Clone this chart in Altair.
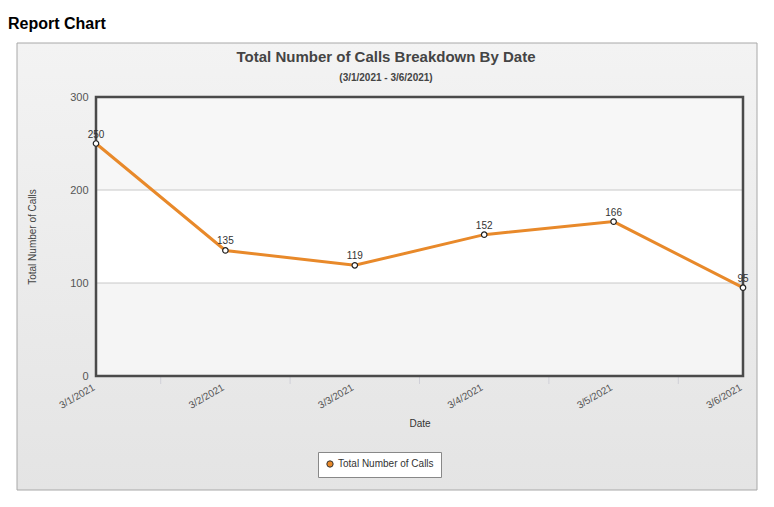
import altair as alt
import pandas as pd

dates = ["3/1/2021", "3/2/2021", "3/3/2021", "3/4/2021", "3/5/2021", "3/6/2021"]
calls = [250, 135, 119, 152, 166, 95]
series_name = "Total Number of Calls"
chart_title = "Total Number of Calls Breakdown By Date"
chart_subtitle = "(3/1/2021 - 3/6/2021)"
band_lo = [0, 100, 200]
band_hi = [100, 200, 300]
band_fill = ["#f5f5f5", "#ffffff", "#f7f7f7"]
grid_vals = [100, 200]
line_color = "#e8892a"

W, H = 647, 279

df = pd.DataFrame({"idx": list(range(len(dates))), "date": dates, "calls": calls, "series": series_name})
bands = pd.DataFrame({"lo": band_lo, "hi": band_hi, "fill": band_fill})
grid = pd.DataFrame({"v": grid_vals})
minor = pd.DataFrame({"m": [i + 0.5 for i in range(len(dates) - 1)]})

label_expr = "[" + ",".join("'%s'" % d for d in dates) + "][datum.value]"

xscale = alt.Scale(domain=[0, len(dates) - 1], nice=False, zero=False)
yscale = alt.Scale(domain=[0, 300], nice=False)

one = pd.DataFrame({"a": [0]})

panel = alt.Chart(one).mark_rect(
    fill=alt.Gradient(gradient="linear", x1=0, x2=0, y1=0, y2=1,
                      stops=[alt.GradientStop(color="#f3f3f3", offset=0),
                             alt.GradientStop(color="#e4e4e4", offset=1)]),
    stroke="#a8a8a8", strokeWidth=1, clip=False
).encode(x=alt.value(-79), x2=alt.value(661), y=alt.value(-54), y2=alt.value(393))

report = alt.Chart(pd.DataFrame({"t": ["Report Chart"]})).mark_text(
    align="left", baseline="alphabetic", fontSize=16, fontWeight="bold",
    font="Liberation Sans", fill="#000000", clip=False
).encode(x=alt.value(-88), y=alt.value(-68), text="t:N")

title_mark = alt.Chart(pd.DataFrame({"t": [chart_title]})).mark_text(
    align="center", baseline="alphabetic", fontSize=15, fontWeight="bold",
    font="Liberation Sans", fill="#444444", clip=False
).encode(x=alt.value(290), y=alt.value(-35), text="t:N")

subtitle_mark = alt.Chart(pd.DataFrame({"t": [chart_subtitle]})).mark_text(
    align="center", baseline="alphabetic", fontSize=10, fontWeight="bold",
    font="Liberation Sans", fill="#444444", clip=False
).encode(x=alt.value(290), y=alt.value(-16), text="t:N")

band_layer = alt.Chart(bands).mark_rect().encode(
    x=alt.value(0), x2=alt.value(W),
    y=alt.Y("lo:Q", scale=yscale), y2="hi:Q",
    fill=alt.Fill("fill:N", scale=None),
)

grid_layer = alt.Chart(grid).mark_rule(stroke="#c8c8c8", strokeWidth=1).encode(
    x=alt.value(0), x2=alt.value(W), y=alt.Y("v:Q", scale=yscale)
)

minor_layer = alt.Chart(minor).mark_rule(stroke="#d0d0d8", strokeWidth=1, clip=False).encode(
    x=alt.X("m:Q", scale=xscale), y=alt.value(H + 1), y2=alt.value(H + 8)
)

frame = alt.Chart(one).mark_rect(fill=None, stroke="#4a4a4a", strokeWidth=2.5, clip=False).encode(
    x=alt.value(0), x2=alt.value(W), y=alt.value(0), y2=alt.value(H)
)

line = alt.Chart(df).mark_line(strokeWidth=3, stroke=line_color).encode(
    x=alt.X("idx:Q", scale=xscale,
            axis=alt.Axis(title="Date", values=list(range(len(dates))), labelExpr=label_expr,
                          labelAngle=330, labelAlign="right", labelBaseline="top",
                          labelPadding=6, labelOffset=-5, ticks=False, domain=False, grid=False,
                          labelFontSize=10, labelColor="#555555", labelFont="Liberation Sans",
                          titleFontSize=10, titleColor="#333333", titleFont="Liberation Sans",
                          titleFontWeight="normal", titlePadding=8, zindex=1)),
    y=alt.Y("calls:Q", scale=yscale,
            axis=alt.Axis(title="Total Number of Calls", values=[0, 100, 200, 300],
                          ticks=False, domain=False, grid=False, labelPadding=8,
                          labelFontSize=11, labelColor="#555555", labelFont="Liberation Sans",
                          titleFontSize=10, titleColor="#444444", titleFont="Liberation Sans",
                          titleFontWeight="normal", titlePadding=32, zindex=1)),
)

legend_layer = alt.Chart(df).mark_point(filled=True, opacity=0, shape="circle").encode(
    x=alt.X("idx:Q", scale=xscale), y=alt.Y("calls:Q", scale=yscale),
    color=alt.Color("series:N", scale=alt.Scale(range=[line_color]),
                    legend=alt.Legend(title=None, orient="none", legendX=222, legendY=355,
                                      symbolType="circle", symbolFillColor=line_color,
                                      symbolStrokeColor="#333333", symbolStrokeWidth=1,
                                      symbolOpacity=1, symbolSize=40,
                                      labelFontSize=10, labelColor="#333333",
                                      labelFont="Liberation Sans",
                                      fillColor="#ffffff", strokeColor="#888888",
                                      padding=7, labelOffset=3, zindex=2)),
)

points = alt.Chart(df).mark_point(filled=True, fill="#ffffff", stroke="#222222",
                                  strokeWidth=1.2, size=30, opacity=1, clip=False).encode(
    x=alt.X("idx:Q", scale=xscale), y=alt.Y("calls:Q", scale=yscale)
)

labels = alt.Chart(df).mark_text(dy=-9, fontSize=10, fill="#333333",
                                 font="Liberation Sans", clip=False).encode(
    x=alt.X("idx:Q", scale=xscale), y=alt.Y("calls:Q", scale=yscale), text="calls:Q"
)

chart = alt.layer(panel, report, title_mark, subtitle_mark, band_layer, grid_layer,
                  minor_layer, line, legend_layer, frame, points, labels).properties(
    width=W, height=H,
    autosize=alt.AutoSizeParams(type="none"),
    padding={"left": 88, "top": 89, "right": 23, "bottom": 123},
    background="#ffffff",
).configure_view(stroke=None)

chart.save("out.html", embed_options={"renderer": "svg", "actions": False})
